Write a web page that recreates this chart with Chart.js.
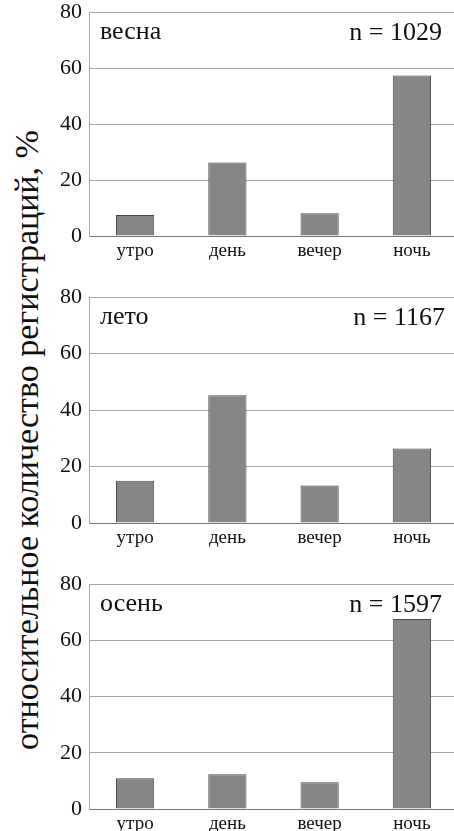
<!DOCTYPE html>
<html>
<head>
<meta charset="utf-8">
<script src="https://cdn.jsdelivr.net/npm/chart.js@4"></script>
<style>
  html, body { margin: 0; padding: 0; background: #fff; overflow: hidden; width: 454px; height: 831px; }
  .panel { position: absolute; left: 0; }
  #yTitle {
    position: absolute; left: 27px; top: 440px;
    transform: translate(-50%, -50%) rotate(-90deg);
    font: 34px "Liberation Serif", serif; white-space: nowrap; color: #111;
  }
</style>
</head>
<body>
<div id="yTitle">относительное количество регистраций, %</div>
<div class="panel" style="top:-8px"><canvas id="spring" width="458" height="274"></canvas></div>
<div class="panel" style="top:270px"><canvas id="summer" width="458" height="283"></canvas></div>
<div class="panel" style="top:555px"><canvas id="autumn" width="458" height="276"></canvas></div>
<script>
const periods = ["утро", "день", "вечер", "ночь"];
const springValues = [7.5, 26.3, 8.1, 57.4];
const summerValues = [15.0, 45.2, 13.3, 26.4];
const autumnValues = [10.9, 12.4, 9.5, 67.6];
const seasonNames = ["весна", "лето", "осень"];
const sampleSizes = [1029, 1167, 1597];
const yMax = 80;
const yStep = 20;

const serif = "'Liberation Serif', 'Times New Roman', serif";

function makeChart(id, season, n, values, padTop, xHeight, nRight) {
    const labelsPlugin = {
        id: "panelLabels",
        afterDraw(chart) {
            const ctx = chart.ctx;
            const area = chart.chartArea;
            ctx.save();
            ctx.fillStyle = "#111";
            ctx.font = "26px " + serif;
            ctx.textBaseline = "alphabetic";
            ctx.textAlign = "left";
            ctx.fillText(season, area.left + 11, area.top + 27);
            ctx.textAlign = "right";
            ctx.fillText("n = " + n, nRight, area.top + 28);
            ctx.restore();
        },
    };

    new Chart(document.getElementById(id), {
        type: "bar",
        data: {
            labels: periods,
            datasets: [
                {
                    data: values,
                    backgroundColor: "#868686",
                    borderColor: "#4a4a4a",
                    borderWidth: 1,
                    barPercentage: 0.9,
                    categoryPercentage: 0.46,
                },
            ],
        },
        options: {
            responsive: false,
            animation: false,
            layout: { padding: { top: padTop, left: 0, right: 0, bottom: 0 } },
            plugins: { legend: { display: false }, tooltip: { enabled: false } },
            scales: {
                x: {
                    grid: { display: false, drawTicks: false },
                    border: { color: "#777", width: 1 },
                    ticks: { color: "#111", font: { family: serif, size: 19 }, padding: 4 },
                    afterFit(scale) { scale.height = xHeight; },
                },
                y: {
                    min: 0,
                    max: yMax,
                    ticks: { stepSize: yStep, color: "#111", font: { family: serif, size: 22 }, padding: 7 },
                    grid: { color: "#a8a8a8", drawTicks: false },
                    border: { color: "#a8a8a8" },
                    afterFit(scale) { scale.width = 89; },
                },
            },
        },
        plugins: [labelsPlugin],
    });
}

makeChart("spring", seasonNames[0], sampleSizes[0], springValues, 20, 30, 442);
makeChart("summer", seasonNames[1], sampleSizes[1], summerValues, 27, 30, 445);
makeChart("autumn", seasonNames[2], sampleSizes[2], autumnValues, 29, 22, 442);
</script>
</body>
</html>
